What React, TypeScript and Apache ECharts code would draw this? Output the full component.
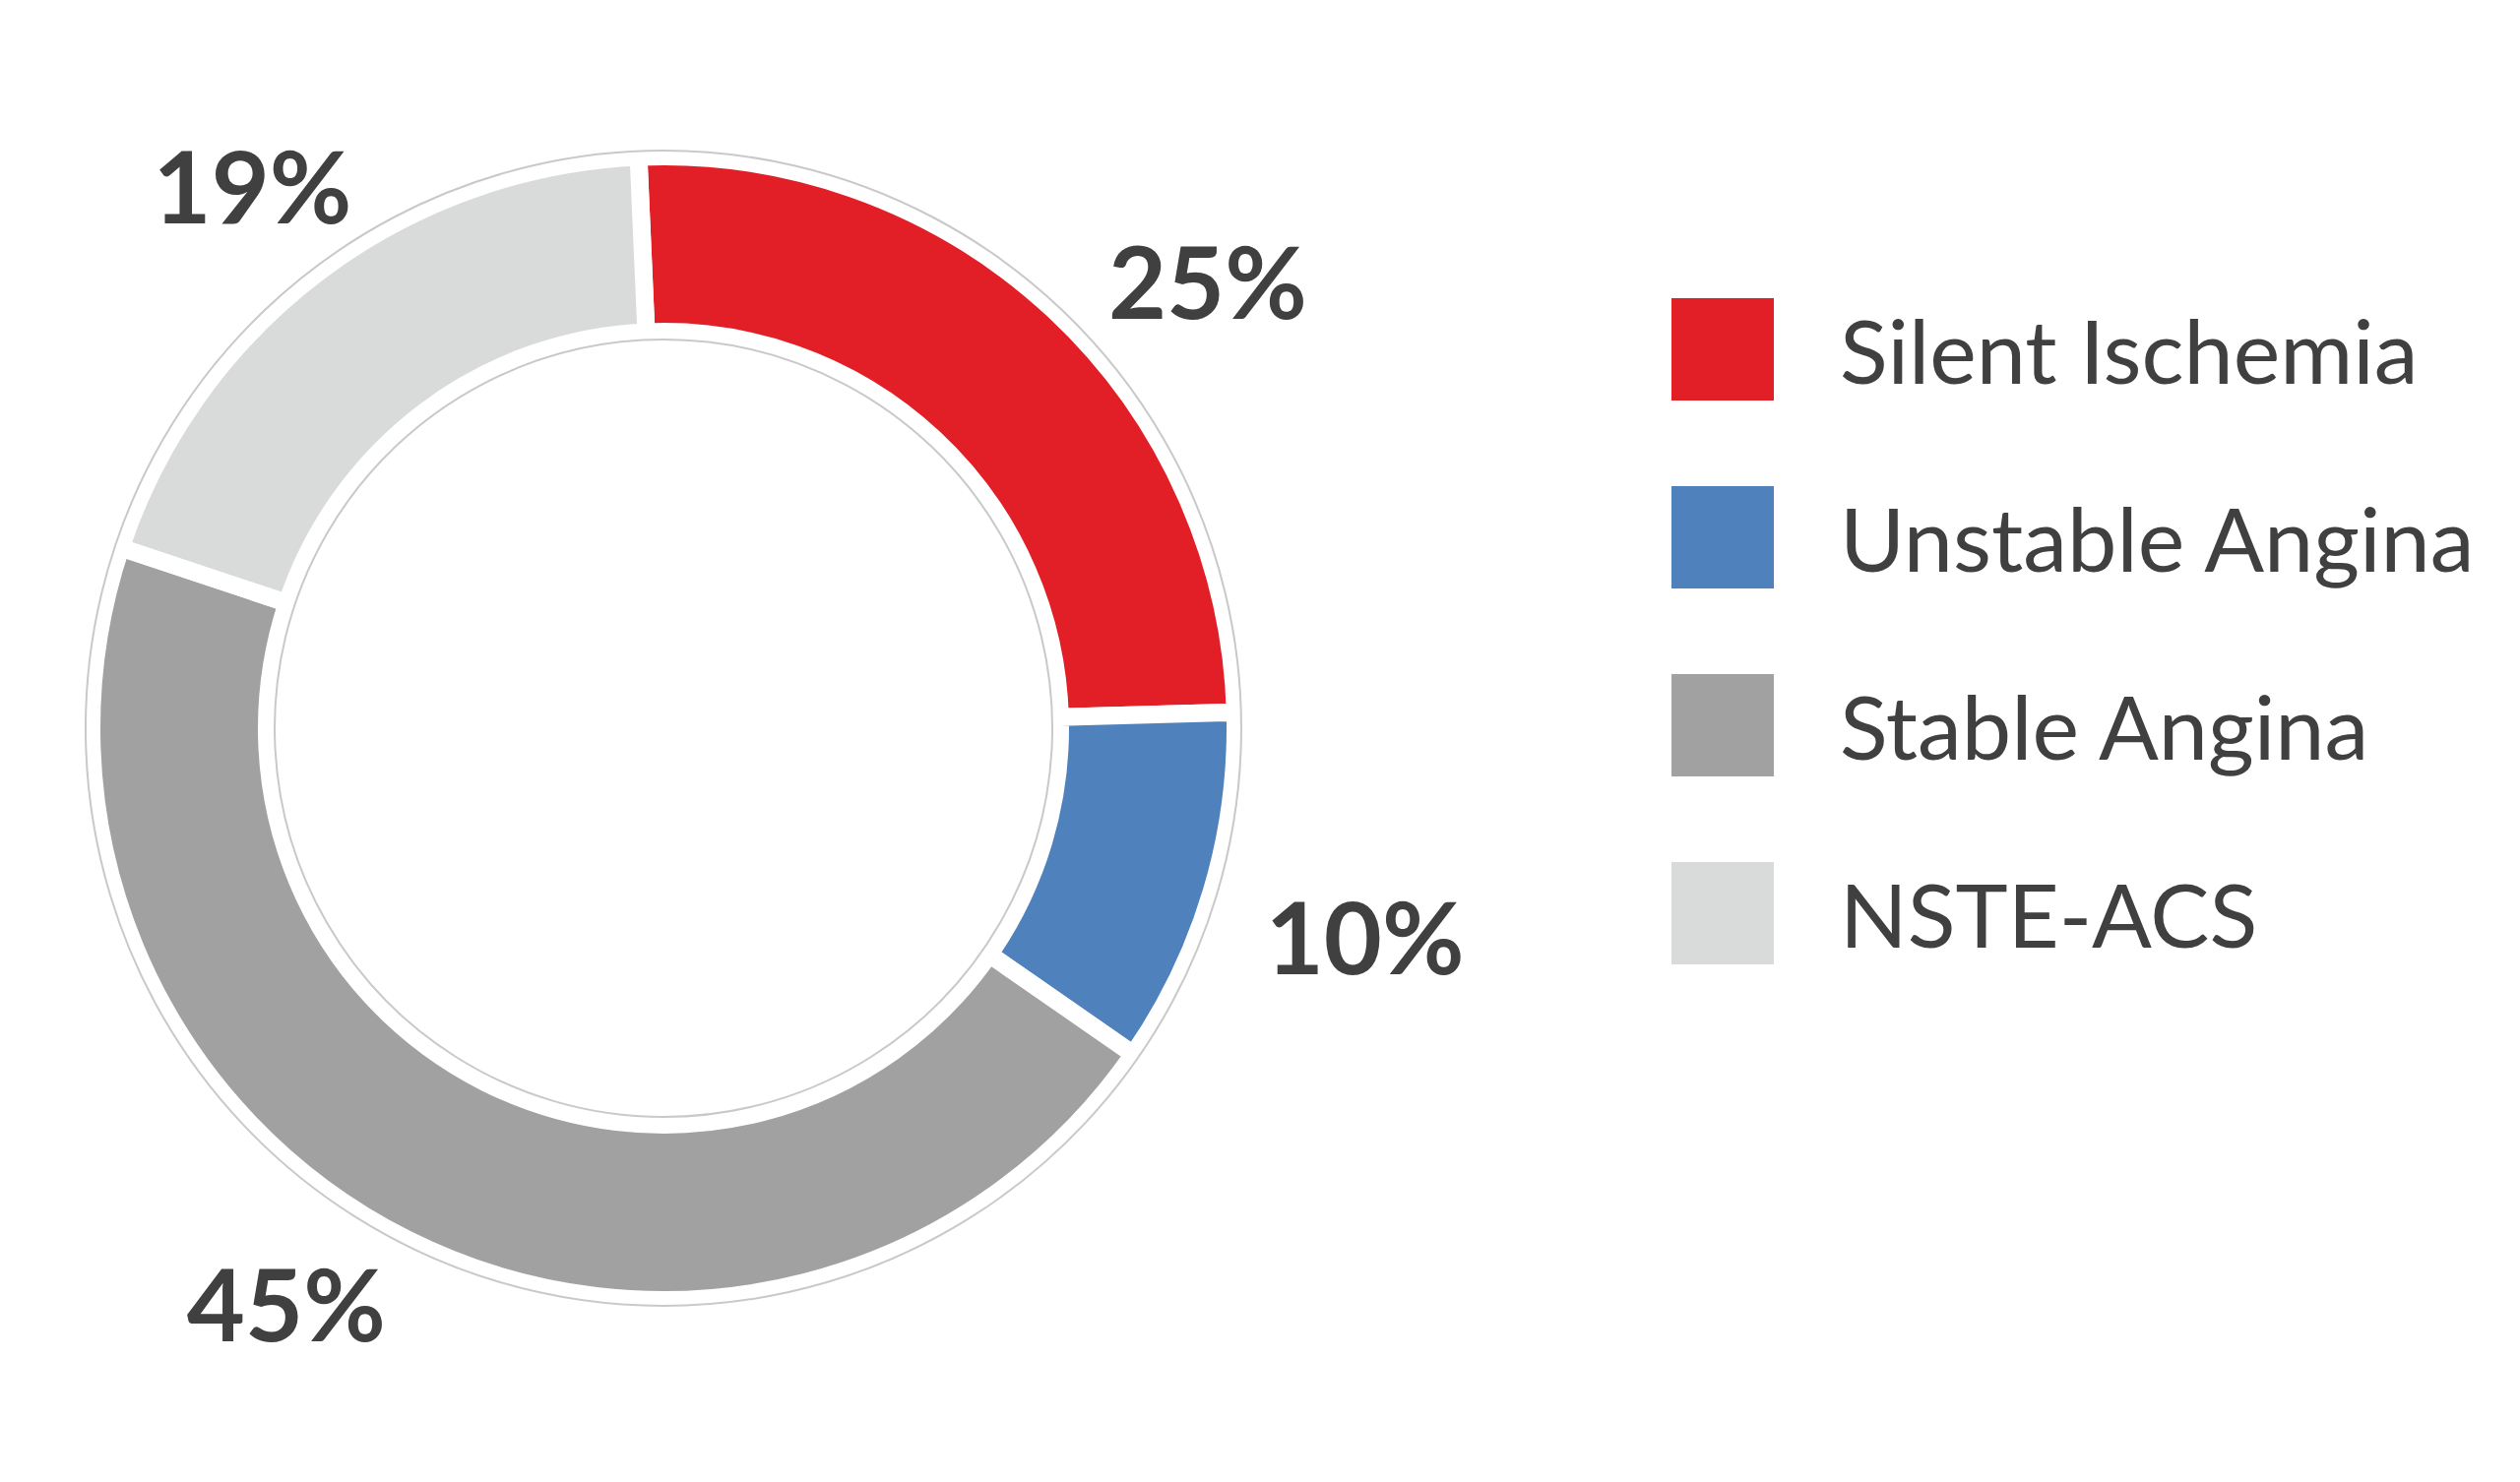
import React, { useEffect, useRef } from "react";
import * as echarts from "echarts";

const categories = ["Silent Ischemia", "Unstable Angina", "Stable Angina", "NSTE-ACS"];
const values = [25, 10, 45, 19];
const colors = ["#E21E26", "#4F81BD", "#A0A1A0", "#D9DBDA"];
// per-label nudges (px) from the mid-angle anchor
const labelOffsets = [
  [58, 58],
  [33, -5],
  [-53, -48],
  [2, 24],
];

const CENTER = [674, 740];
const TEXT = "#404040";

export default function App() {
  const ref = useRef<HTMLDivElement>(null);
  useEffect(() => {
    if (!ref.current) return;
    const chart = echarts.init(ref.current, null, { renderer: "svg" });
    const mainData = categories.map((name, i) => ({
      name,
      value: values[i],
      itemStyle: { color: colors[i] },
    }));
    const ghostData = categories.map((name, i) => ({
      name,
      value: values[i],
      label: { offset: labelOffsets[i] },
    }));
    chart.setOption({
      animation: false,
      backgroundColor: "#ffffff",
      legend: {
        data: categories,
        orient: "vertical",
        left: 1698,
        top: 303,
        padding: 0,
        itemWidth: 104,
        itemHeight: 104,
        itemGap: 87,
        icon: "rect",
        selectedMode: false,
        itemStyle: { borderWidth: 0 },
        textStyle: {
          fontFamily: "Lato",
          fontSize: 90,
          color: TEXT,
          lineHeight: 104,
          padding: [0, 0, 0, 62],
        },
      },
      series: [
        {
          type: "pie",
          name: "main",
          center: CENTER,
          radius: [403, 581],
          startAngle: 92.5,
          clockwise: true,
          silent: true,
          z: 2,
          label: { show: false },
          labelLine: { show: false },
          itemStyle: { borderColor: "#ffffff", borderWidth: 18 },
          data: mainData,
        },
        {
          type: "pie",
          name: "labels",
          center: CENTER,
          radius: [709, 711],
          startAngle: 91.5,
          clockwise: true,
          silent: true,
          z: 3,
          itemStyle: { color: "rgba(0,0,0,0)" },
          labelLine: { show: false },
          label: {
            show: true,
            position: "inside",
            formatter: "{c}%",
            fontFamily: "Lato",
            fontWeight: "bold",
            fontSize: 102,
            color: TEXT,
          },
          data: ghostData,
        },
        {
          type: "pie",
          name: "frame",
          center: CENTER,
          radius: [395, 587],
          silent: true,
          z: 4,
          label: { show: false },
          labelLine: { show: false },
          itemStyle: { color: "rgba(0,0,0,0)", borderColor: "#C9C9C9", borderWidth: 2 },
          data: [{ name: "frame", value: 1 }],
        },
      ],
    });
    return () => chart.dispose();
  }, []);
  return (
    <div
      ref={ref}
      style={{ position: "fixed", left: 0, top: 0, width: 2560, height: 1506 }}
    />
  );
}
